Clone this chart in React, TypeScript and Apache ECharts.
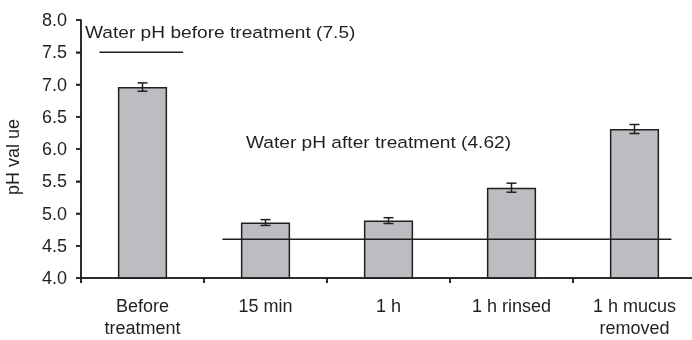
import React, { useEffect, useRef } from "react";
import * as echarts from "echarts";

const categories = ["Before\ntreatment", "15 min", "1 h", "1 h rinsed", "1 h mucus\nremoved"];
const phValues = [6.96, 4.86, 4.89, 5.4, 6.31];
const phErrors = [0.065, 0.045, 0.045, 0.07, 0.07];
const yTicks = { min: 4, max: 8, interval: 0.5 };
const yTickValues = [4, 4.5, 5, 5.5, 6, 6.5, 7, 7.5, 8];
// reference lines: [fromCategory, y, fromOffset(bands), toCategory, toOffset(bands)]
const refLines = [
  [0, 7.5, -0.35, 0, 0.33],
  [1, 4.6, -0.35, 4, 0.3],
];
const beforeLabel = "Water pH before treatment (7.5)";
const afterLabel = "Water pH after treatment (4.62)";

const INK = "#231f20";

export default function App() {
  const ref = useRef<HTMLDivElement>(null);
  useEffect(() => {
    if (!ref.current) return;
    const chart = echarts.init(ref.current, undefined, { renderer: "svg" });
    const font = "Liberation Sans, Arial, Helvetica, sans-serif";
    const lineStyle = { stroke: INK, lineWidth: 1.5 };
    const textGraphics: any[] = [
      {
        type: "text",
        x: 85,
        y: 32,
        scaleX: 1.16,
        style: {
          text: beforeLabel,
          fill: INK,
          fontSize: 16.5,
          fontFamily: font,
          textAlign: "left",
          textVerticalAlign: "middle",
        },
      },
      {
        type: "text",
        x: 378.5,
        y: 142,
        scaleX: 1.16,
        style: {
          text: afterLabel,
          fill: INK,
          fontSize: 16.5,
          fontFamily: font,
          textAlign: "center",
          textVerticalAlign: "middle",
        },
      },
    ];
    chart.setOption({
      animation: false,
      grid: { left: 81, top: 20, bottom: 62, right: -4, outerBoundsMode: "none" },
      xAxis: {
        type: "category",
        data: categories,
        axisLine: { show: true, lineStyle: { color: INK, width: 1.5 } },
        axisTick: { show: true, length: 5, lineStyle: { color: INK, width: 1.5 } },
        axisLabel: { color: INK, fontSize: 18, lineHeight: 22, margin: 17, fontFamily: font, interval: 0 },
      },
      yAxis: {
        type: "value",
        min: yTicks.min,
        max: yTicks.max,
        interval: yTicks.interval,
        name: "pH val ue",
        nameLocation: "middle",
        nameRotate: 90,
        nameGap: 59,
        nameTextStyle: { color: INK, fontSize: 18, fontFamily: font, padding: [0, 16, 0, 0] },
        axisLine: { show: true, onZero: false, lineStyle: { color: INK, width: 1.5 } },
        axisTick: { show: true, length: 5, lineStyle: { color: INK, width: 1.5 } },
        splitLine: { show: false },
        axisLabel: {
          color: INK,
          fontSize: 18,
          margin: 14,
          fontFamily: font,
          formatter: (v: number) => v.toFixed(1),
        },
      },
      graphic: textGraphics,
      series: [
        {
          type: "bar",
          data: phValues,
          barWidth: "40%",
          itemStyle: { color: "#bcbdc0", borderColor: INK, borderWidth: 1.5 },
          z: 2,
        },
        {
          type: "custom",
          data: phValues.map((v, i) => [i, v - phErrors[i], v + phErrors[i]]),
          encode: { x: 0, y: [1, 2] },
          z: 3,
          renderItem: (params: any, api: any) => {
            const i = api.value(0);
            const lo = api.coord([i, api.value(1)]);
            const hi = api.coord([i, api.value(2)]);
            const cap = 5;
            const style = { ...lineStyle, fill: "none" };
            return {
              type: "group",
              children: [
                { type: "line", shape: { x1: lo[0], y1: lo[1], x2: hi[0], y2: hi[1] }, style },
                { type: "line", shape: { x1: lo[0] - cap, y1: lo[1], x2: lo[0] + cap, y2: lo[1] }, style },
                { type: "line", shape: { x1: hi[0] - cap, y1: hi[1], x2: hi[0] + cap, y2: hi[1] }, style },
              ],
            };
          },
        },
        {
          type: "custom",
          data: refLines,
          encode: { x: 0, y: 1 },
          z: 4,
          renderItem: (params: any, api: any) => {
            const band = api.size([1, 0])[0];
            const y = api.value(1);
            const a = api.coord([api.value(0), y]);
            const b = api.coord([api.value(3), y]);
            return {
              type: "line",
              shape: {
                x1: a[0] + api.value(2) * band,
                y1: a[1],
                x2: b[0] + api.value(4) * band,
                y2: b[1],
              },
              style: lineStyle,
            };
          },
        },
      ],
    });

    // Axis lines and ticks placed through the chart's own scales
    try {
      const py = (v: number) => chart.convertToPixel({ yAxisIndex: 0 }, v) as number;
      const px = (i: number) => chart.convertToPixel({ xAxisIndex: 0 }, i) as number;
      const c0 = px(0);
      const band = px(1) - c0;
      const left = c0 - band / 2;
      const right = left + band * categories.length;
      const yTop = py(yTicks.max);
      const yBot = py(yTicks.min);
      const axisGraphics: any[] = [];
      if ([c0, band, yTop, yBot].every((n) => typeof n === "number" && isFinite(n))) {
        axisGraphics.push({ type: "line", z: 100, shape: { x1: left, y1: yTop, x2: left, y2: yBot }, style: lineStyle });
        axisGraphics.push({ type: "line", z: 100, shape: { x1: left, y1: yBot, x2: right, y2: yBot }, style: lineStyle });
        yTickValues.forEach((v) => {
          const y = py(v);
          axisGraphics.push({ type: "line", z: 100, shape: { x1: left - 5, y1: y, x2: left, y2: y }, style: lineStyle });
        });
        for (let k = 0; k <= categories.length; k++) {
          const x = left + k * band;
          axisGraphics.push({ type: "line", z: 100, shape: { x1: x, y1: yBot, x2: x, y2: yBot + 5 }, style: lineStyle });
        }
        chart.setOption({ graphic: [...textGraphics, ...axisGraphics] });
      }
    } catch (e) {
      // keep the chart as drawn
    }
    return () => chart.dispose();
  }, []);
  return <div ref={ref} style={{ position: "fixed", left: 0, top: 0, width: 692, height: 340 }} />;
}
